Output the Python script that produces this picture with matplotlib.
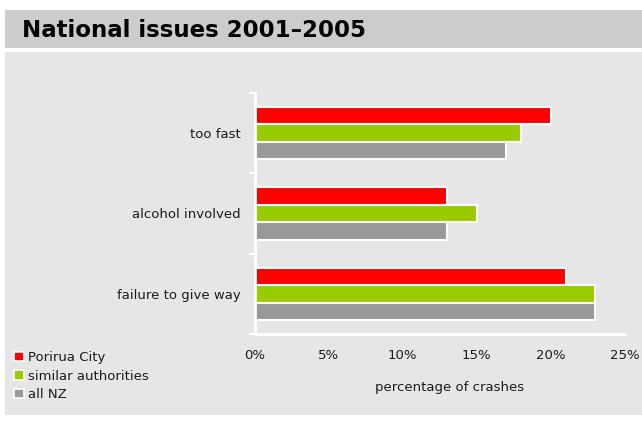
import matplotlib.pyplot as plt
from matplotlib.patches import Rectangle, Patch
import numpy as np

# Data (percent of crashes)
issues = ['too fast', 'alcohol involved', 'failure to give way']
porirua = [20, 13, 21]
similar = [18, 15, 23]
all_nz = [17, 13, 23]
series_names = ['Porirua City', 'similar authorities', 'all NZ']
series_colors = ['#ff0000', '#99cc00', '#999999']
xticks = [0, 5, 10, 15, 20, 25]

W, H = 642, 421
fig = plt.figure(figsize=(W / 100, H / 100), dpi=100)
fig.patch.set_facecolor('white')

# Title band and panel background (pixel coords from top-left)
def px_rect(x0, y0, x1, y1, color):
    fig.add_artist(Rectangle((x0 / W, 1 - y1 / H), (x1 - x0) / W, (y1 - y0) / H,
                             transform=fig.transFigure, facecolor=color,
                             edgecolor='none', zorder=0))

px_rect(4.7, 10, W, 47.7, '#cccccc')
px_rect(4.7, 51.7, W, 415, '#e6e6e6')
fig.text(22 / W, 1 - 30.5 / H, 'National issues 2001\u20132005', fontsize=16.5,
         fontweight='bold', va='center', ha='left')

fs = 9.5
txt = '#1a1a1a'

# Axes placed in pixel terms
left, right, top, bottom = 254.5, 625, 93, 334
ax = fig.add_axes([left / W, 1 - bottom / H, (right - left) / W, (bottom - top) / H])
ax.set_facecolor('none')

y = np.arange(len(issues))
h = 0.218
for i, (vals, col, name) in enumerate(zip([porirua, similar, all_nz], series_colors, series_names)):
    ax.barh(y + (i - 1) * h, vals, height=h, color=col, edgecolor='white',
            linewidth=1.5, label=name)

ax.set_xlim(0, 25)
ax.set_ylim(2.5, -0.5)
ax.set_xticks(xticks)
ax.set_xticklabels([f'{t}%' for t in xticks], fontsize=fs, color=txt)
ax.tick_params(axis='x', length=0, pad=11)

# category boundaries as major ticks, names as minor ticks
ax.set_yticks([-0.5, 0.5, 1.5, 2.5])
ax.set_yticklabels([])
ax.tick_params(axis='y', which='major', length=4, width=1.5, color='white')
ax.set_yticks(y, minor=True)
ax.set_yticklabels(issues, minor=True, fontsize=fs, color=txt)
ax.tick_params(axis='y', which='minor', length=0, pad=10)

for s in ['top', 'right']:
    ax.spines[s].set_visible(False)
for s in ['left', 'bottom']:
    ax.spines[s].set_color('white')
    ax.spines[s].set_linewidth(2)

fig.text(449.5 / W, 1 - 388 / H, 'percentage of crashes', fontsize=fs,
         ha='center', va='center', color=txt)

handles = [Patch(facecolor=c, edgecolor='white', linewidth=1.2) for c in series_colors]
fig.legend(handles, series_names, loc='upper left', bbox_to_anchor=(14 / W, 1 - 351 / H),
           frameon=False, fontsize=fs, handlelength=0.75, handleheight=0.75,
           handletextpad=0.3, labelspacing=0.42, borderpad=0, borderaxespad=0,
           labelcolor=txt)

fig.savefig('out.png', dpi=100)
